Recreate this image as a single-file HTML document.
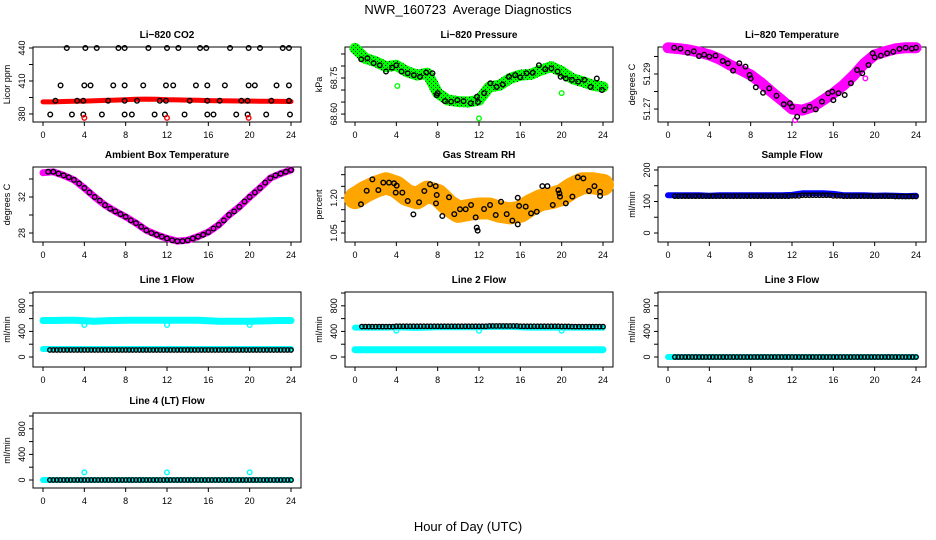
<!DOCTYPE html>
<html><head><meta charset="utf-8"><style>
html,body{margin:0;padding:0;background:#fff;}
svg{display:block;font-family:"Liberation Sans",sans-serif;}
</style></head><body>
<svg id="chart" width="936" height="540" viewBox="0 0 936 540" xmlns="http://www.w3.org/2000/svg">
<defs>
<pattern id="pg" width="4" height="4" patternUnits="userSpaceOnUse"><rect width="4" height="4" fill="#00ff00"/><rect x="1" y="1" width="1" height="1" fill="#000"/><rect x="3" y="3" width="1" height="1" fill="#006000"/></pattern>
</defs>
<rect width="936" height="540" fill="#fff"/>
<text x="468" y="14" font-size="13" text-anchor="middle" xml:space="preserve">NWR_160723  Average Diagnostics</text>
<text x="468" y="531" font-size="13" text-anchor="middle">Hour of Day (UTC)</text>
<g id="plots"></g>
</svg>
<script>
// ---- data ----
const hours = [0,1,2,3,4,5,6,7,8,9,10,11,12,13,14,15,16,17,18,19,20,21,22,23,24];
const xTicks = [0,4,8,12,16,20,24];
// CO2
const co2Red = [391,391,391.3,391.5,391.7,392,392.3,392.6,393,393.3,393.5,393.3,393,392.8,392.6,392.4,392.2,392,391.9,391.8,391.7,391.6,391.5,391.4,391.3];
const co2BlackH = [2.3,4.1,5.2,7.3,7.9,10.2,12.0,13.1,15.2,15.8,18.1,19.9,21.0,23.2,23.8, 1.7,4.0,4.6,6.8,7.9,9.7,11.9,12.6,14.8,15.9,17.6,19.9,20.5,22.6,23.8, 1.2,3.3,3.9,6.3,7.9,9.1,11.3,11.9,14.2,15.9,17.1,19.2,19.8,22.1,23.8, 0.7,2.8,3.9,5.7,7.9,8.6,10.8,11.8,13.7,15.9,16.5,18.7,19.8,21.6,23.9];
const co2BlackV = [440,440,440,440,440,440,440,440,440,440,440,440,440,440,440, 406,406,406,406,406,406,406,406,406,406,406,406,406,406,406, 392,392,392,392,392,392,392,392,392,392,392,392,392,392,392, 379.5,379.5,379.5,379.5,379.5,379.5,379.5,379.5,379.5,379.5,379.5,379.5,379.5,379.5,379.5];
const co2OutH = [4.0,12.0,19.9];
const co2OutV = [376.4,376.4,376.4];
// Pressure
const presGreen = [68.873,68.832,68.818,68.797,68.803,68.777,68.762,68.770,68.687,68.658,68.652,68.650,68.658,68.713,68.720,68.748,68.762,68.765,68.783,68.797,68.777,68.748,68.735,68.720,68.713];
const presOutH = [4.1,12.0,20.0];
const presOutV = [68.717,68.582,68.687];
const presBlackH = [0.6,1.2,1.8,2.4,3.0,3.6,4.0,4.5,5.1,5.7,6.3,6.9,7.5,7.9,8.0,8.7,9.3,9.9,10.5,11.2,11.8,11.9,12.5,13.1,13.7,14.3,14.9,15.5,16.0,16.6,17.2,17.8,18.4,19.0,19.6,19.9,20.4,21.0,21.6,22.2,22.8,23.4,23.9];
const presBlackV = [68.828,68.832,68.812,68.803,68.777,68.793,68.803,68.777,68.770,68.762,68.755,68.773,68.770,68.679,68.687,68.654,68.652,68.658,68.654,68.645,68.672,68.650,68.687,68.728,68.713,68.723,68.755,68.762,68.753,68.770,68.772,68.803,68.787,68.790,68.777,68.755,68.748,68.742,68.735,68.742,68.713,68.748,68.700];
// Li-820 temperature
const tempPink = [51.3050,51.3045,51.3037,51.3025,51.3009,51.2985,51.2951,51.2925,51.2894,51.2850,51.2799,51.2751,51.2700,51.2694,51.2713,51.2751,51.2790,51.2837,51.2894,51.2960,51.3009,51.3027,51.3043,51.3050,51.3050];
const tempOutH = [19.1,12.3];
const tempOutV = [51.2875,51.2637];
const tempBlackH = [0.6,1.2,1.9,2.5,3.0,3.5,4.0,4.6,5.3,5.8,6.3,6.9,7.5,7.9,8.0,8.5,9.2,9.8,10.5,11.2,11.8,12.0,12.5,13.2,13.7,14.3,14.9,15.5,15.9,16.0,16.5,17.1,17.7,18.3,18.8,19.4,19.8,20.0,20.6,21.2,21.8,22.4,23.0,23.6,24.0];
const tempBlackV = [51.305,51.3045,51.3021,51.3030,51.3002,51.3010,51.2999,51.3005,51.2974,51.2961,51.2919,51.2961,51.2942,51.2894,51.2875,51.2824,51.2793,51.2818,51.2776,51.2727,51.2733,51.2713,51.2656,51.2694,51.2713,51.2698,51.2742,51.2790,51.2799,51.2751,51.2790,51.2780,51.2847,51.2923,51.2904,51.2951,51.3018,51.2995,51.3005,51.3018,51.3027,51.3043,51.3050,51.3045,51.3050];
// Ambient box temperature
const ambPink = [34.7,34.8,34.4,33.9,33.0,32.0,31.1,30.4,29.8,29.1,28.3,27.8,27.4,27.1,27.2,27.6,28.1,28.9,30.0,30.9,32.0,33.0,34.1,34.6,35.0];
const ambBlackH = [0.5,1,1.5,2,2.5,3,3.5,4,4.5,5,5.5,6,6.5,7,7.5,8,8.5,9,9.5,10,10.5,11,11.5,12,12.5,13,13.5,14,14.5,15,15.5,16,16.5,17,17.5,18,18.5,19,19.5,20,20.5,21,21.5,22,22.5,23,23.5,24];
const ambBlackV = [34.8,34.8,34.6,34.4,34.2,33.9,33.5,33.0,32.5,32.0,31.6,31.1,30.7,30.4,30.1,29.8,29.4,29.1,28.7,28.3,28.0,27.8,27.6,27.4,27.2,27.1,27.1,27.2,27.4,27.6,27.8,28.1,28.5,28.9,29.4,30.0,30.4,30.9,31.5,32.0,32.5,33.0,33.6,34.1,34.4,34.6,34.8,35.0];
// Gas stream RH
const rhCloud = [1.199,1.227,1.248,1.263,1.248,1.213,1.199,1.227,1.213,1.170,1.141,1.149,1.155,1.155,1.141,1.134,1.141,1.170,1.191,1.199,1.213,1.242,1.263,1.263,1.256];
const rhBlackH = [0.58,1.13,1.68,2.26,2.74,3.29,3.78,3.94,4.03,4.58,5.1,5.65,6.2,6.71,7.26,7.81,7.84,7.91,8.45,9.1,9.61,10.16,10.71,11.23,11.68,11.78,11.87,12.49,13.07,13.62,14.13,14.68,15.23,15.75,15.75,15.88,16.52,17.04,17.59,18.13,18.62,19.14,19.68,19.78,19.84,20.4,21.04,21.56,22.1,22.65,23.17,23.72,23.72];
const rhBlackV = [1.173,1.231,1.280,1.234,1.266,1.266,1.263,1.223,1.253,1.223,1.187,1.130,1.182,1.230,1.259,1.251,1.177,1.213,1.123,1.203,1.131,1.152,1.152,1.170,1.117,1.073,1.060,1.153,1.170,1.127,1.184,1.131,1.103,1.087,1.201,1.166,1.163,1.134,1.141,1.251,1.251,1.170,1.234,1.220,1.206,1.177,1.206,1.289,1.284,1.230,1.251,1.227,1.209];
// Sample flow
const sfBlue = [120,120,120,120,118,120,120,120,120,120,120,120,121,126,126,126,124,120,120,120,118,119,118,117,118];
const sfBlack = [117,117,117,117,117,117,117,117,117,117,117,117,118,120,120,120,118,117,117,117,117,117,116,116,116];
// Line flows
const l1CyanHi = [570,570,575,575,565,560,565,570,575,575,575,575,575,575,575,575,565,560,560,560,560,562,565,570,570];
const l1CyanLo = [125,125,125,125,125,125,125,125,125,125,125,125,125,125,125,125,125,125,125,125,125,125,125,125,125];
const l1Black = [110,110,110,110,110,110,110,110,110,110,110,110,110,110,110,110,110,110,110,110,110,110,110,110,110];
const l1DipH = [4,12,20];
const l1DipV = [500,500,500];
const l2CyanHi = [460,460,460,460,465,460,455,460,465,465,465,465,465,470,470,470,465,460,460,460,460,460,460,460,460];
const l2CyanLo = [115,115,115,115,115,115,115,115,115,115,115,115,115,115,115,115,115,115,115,115,115,115,115,115,115];
const l2Black = [475,475,475,475,480,480,480,480,480,480,480,480,480,485,485,485,480,480,480,480,478,475,475,475,475];
const l2DipH = [4,12,20];
const l2DipV = [410,410,410];
const l3Cyan = [0,0,0,0,0,0,0,0,0,0,0,0,0,0,0,0,0,0,0,0,0,0,0,0,0];
const l3Black = [0,0,0,0,0,0,0,0,0,0,0,0,0,0,0,0,0,0,0,0,0,0,0,0,0];
const l4Cyan = [0,0,0,0,0,0,0,0,0,0,0,0,0,0,0,0,0,0,0,0,0,0,0,0,0];
const l4Black = [0,0,0,0,0,0,0,0,0,0,0,0,0,0,0,0,0,0,0,0,0,0,0,0,0];
const l4SpikeH = [4,12,20];
const l4SpikeV = [120,120,120];
const co2Ticks = [380,395,410,425,440], co2Labels = ["380","","410","","440"];
const presTicks = [68.60,68.65,68.70,68.75,68.80,68.85], presLabels = ["68.60","","","68.75","",""];
const tempTicks = [51.27,51.28,51.29,51.30], tempLabels = ["51.27","","51.29",""];
const ambTicks = [28,30,32,34], ambLabels = ["28","","32",""];
const rhTicks = [1.05,1.10,1.15,1.20,1.25,1.30], rhLabels = ["1.05","","","1.20","",""];
const sfTicks = [0,50,100,150,200], sfLabels = ["0","","100","","200"];
const flTicks = [0,200,400,600,800,1000], flLabels = ["0","","400","","800",""];

// ---- drawing ----
const NS = "http://www.w3.org/2000/svg";
const root = document.getElementById("plots");
const L = [33,345,658], BW = 268, T = [47,167,292,413], BH = 75;
function mk(tag, attrs, parent){
  const e = document.createElementNS(NS, tag);
  for (const k in attrs) e.setAttribute(k, attrs[k]);
  (parent||root).appendChild(e);
  return e;
}
function xScale(col){ return h => L[col] + 10 + h*248/24; }
function yScale(row, lo, hi){ return v => T[row] + BH - (v-lo)/(hi-lo)*BH; }

function panel(col, row, title, ytitle, lo, hi, ticks, labels, name){
  const g = mk("g", {});
  
  
  const x = xScale(col), y = yScale(row, lo, hi);
  const box = mk("rect", {x:L[col], y:T[row], width:BW, height:BH, fill:"none", stroke:"#000", "stroke-width":1}, g);
  
  
  const t = mk("text", {x:L[col]+BW/2, y:T[row]-9, "font-size":10, "font-weight":"bold", "text-anchor":"middle"}, g);
  t.textContent = title;
  
  
  const yt = mk("text", {transform:`translate(${L[col]-23},${T[row]+BH/2}) rotate(-90)`, "font-size":9, "text-anchor":"middle"}, g);
  yt.textContent = ytitle;
  
  
  xTicks.forEach(h => {
    const tk = mk("line", {x1:x(h), x2:x(h), y1:T[row]+BH, y2:T[row]+BH+4, stroke:"#000"}, g);
    
    
    const lb = mk("text", {x:x(h), y:T[row]+BH+16, "font-size":9, "text-anchor":"middle"}, g);
    lb.textContent = String(h);
    
    
  });
  ticks.forEach((v,i) => {
    const tk = mk("line", {x1:L[col]-4, x2:L[col], y1:y(v), y2:y(v), stroke:"#000"}, g);
    
    
    if (labels[i]) {
      const lb = mk("text", {transform:`translate(${L[col]-8},${y(v)}) rotate(-90)`, "font-size":9, "text-anchor":"middle"}, g);
      lb.textContent = labels[i];
      
      
    }
  });
  return {g, x, y};
}
function band(p, hs, vs, color, w, name){
  const pts = hs.map((h,i) => p.x(h).toFixed(1)+","+p.y(vs[i]).toFixed(1)).join(" ");
  const e = mk("polyline", {points:pts, fill:"none", stroke:color, "stroke-width":w, "stroke-linejoin":"round", "stroke-linecap":"round"}, p.g);
  
  
}
function dots(p, hs, vs, color, name, r){
  hs.forEach((h,i) => {
    const c = mk("circle", {cx:p.x(h), cy:p.y(vs[i]), r:r||2.3, fill:"none", stroke:color, "stroke-width":1.4}, p.g);
    
    
  });
}
function stepDots(p, vals, color, name, start){
  vals.forEach((v,i) => {
    for (let k=0;k<3;k++){
      const h = i + k/3;
      if (h < start || h > 24) continue;
      const c = mk("circle", {cx:p.x(h), cy:p.y(v), r:2.2, fill:"none", stroke:color, "stroke-width":1.4}, p.g);
      
      
    }
  });
}

// Row 1
let p = panel(0,0,"Li\u2212820 CO2","Licor ppm",372.7,440.9,co2Ticks,co2Labels,"co2");
band(p, hours, co2Red, "#ff0000", 5, "co2-red-series");
dots(p, co2BlackH, co2BlackV, "#000", "co2-black-point");
dots(p, co2OutH, co2OutV, "#ff0000", "co2-red-outlier");

p = panel(1,0,"Li\u2212820 Pressure","kPa",68.567,68.879,presTicks,presLabels,"pressure");
band(p, hours, presGreen, "url(#pg)", 11, "pressure-green-cloud");
dots(p, presOutH, presOutV, "#00ff00", "pressure-green-outlier");
dots(p, presBlackH, presBlackV, "#000", "pressure-black-point");

p = panel(2,0,"Li\u2212820 Temperature","degrees C",51.2626,51.3054,tempTicks,tempLabels,"li820-temp");
band(p, hours, tempPink, "#ff00ff", 11, "li820-temp-pink-cloud");
dots(p, tempOutH, tempOutV, "#ff00ff", "li820-temp-pink-outlier");
dots(p, tempBlackH, tempBlackV, "#000", "li820-temp-black-point");

// Row 2
p = panel(0,1,"Ambient Box Temperature","degrees C",27.0,35.333,ambTicks,ambLabels,"ambient");
band(p, hours, ambPink, "#ff00ff", 7, "ambient-pink-series");
dots(p, ambBlackH, ambBlackV, "#000", "ambient-black-point");

p = panel(1,1,"Gas Stream RH","percent",1.0114,1.3329,rhTicks,rhLabels,"rh");
band(p, hours, rhCloud, "#ffa500", 22, "rh-orange-cloud");
dots(p, rhBlackH, rhBlackV, "#000", "rh-black-point");

p = panel(2,1,"Sample Flow","ml/min",-28.6,209.5,sfTicks,sfLabels,"sample-flow");
band(p, hours, sfBlue, "#0000ff", 6, "sample-flow-blue-series");
stepDots(p, sfBlack, "#000", "sample-flow-black-point", 0.5);

// Row 3
p = panel(0,2,"Line 1 Flow","ml/min",-156,1015.6,flTicks,flLabels,"line1-flow");
band(p, hours, l1CyanHi, "#00ffff", 7, "line1-cyan-upper");
band(p, hours, l1CyanLo, "#00ffff", 6, "line1-cyan-lower");
dots(p, l1DipH, l1DipV, "#00ffff", "line1-cyan-outlier");
stepDots(p, l1Black, "#000", "line1-black-point", 0.5);

p = panel(1,2,"Line 2 Flow","ml/min",-156,1015.6,flTicks,flLabels,"line2-flow");
band(p, hours, l2CyanHi, "#00ffff", 6, "line2-cyan-upper");
band(p, hours, l2CyanLo, "#00ffff", 7, "line2-cyan-lower");
dots(p, l2DipH, l2DipV, "#00ffff", "line2-cyan-outlier");
stepDots(p, l2Black, "#000", "line2-black-point", 0.5);

p = panel(2,2,"Line 3 Flow","ml/min",-156,1015.6,flTicks,flLabels,"line3-flow");
band(p, hours, l3Cyan, "#00ffff", 6, "line3-cyan-series");
stepDots(p, l3Black, "#000", "line3-black-point", 0.5);

// Row 4
p = panel(0,3,"Line 4 (LT) Flow","ml/min",-125,1047,flTicks,flLabels,"line4-flow");
band(p, hours, l4Cyan, "#00ffff", 6, "line4-cyan-series");
dots(p, l4SpikeH, l4SpikeV, "#00ffff", "line4-cyan-spike");
stepDots(p, l4Black, "#000", "line4-black-point", 0.5);
</script>
</body></html>
